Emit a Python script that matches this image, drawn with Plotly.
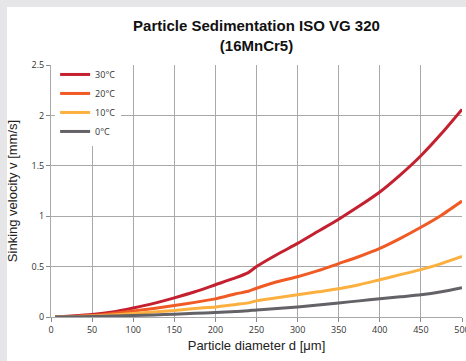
import plotly.graph_objects as go

diam = [5, 25, 50, 75, 100, 125, 150, 175, 200, 225, 240, 250, 275, 300, 325, 350, 375, 400, 425, 450, 475, 500]
v30 = [0, 0.01, 0.025, 0.05, 0.09, 0.135, 0.19, 0.25, 0.32, 0.39, 0.44, 0.50, 0.62, 0.73, 0.85, 0.97, 1.10, 1.24, 1.41, 1.60, 1.82, 2.06]
v20 = [0, 0.005, 0.015, 0.035, 0.06, 0.085, 0.115, 0.145, 0.18, 0.23, 0.255, 0.285, 0.35, 0.40, 0.46, 0.53, 0.60, 0.68, 0.78, 0.89, 1.01, 1.15]
v10 = [0, 0.003, 0.01, 0.02, 0.035, 0.05, 0.065, 0.085, 0.10, 0.125, 0.14, 0.16, 0.19, 0.22, 0.25, 0.28, 0.32, 0.37, 0.42, 0.47, 0.53, 0.60]
v0 = [0, 0.002, 0.005, 0.01, 0.015, 0.02, 0.028, 0.036, 0.045, 0.055, 0.062, 0.07, 0.085, 0.10, 0.12, 0.14, 0.16, 0.18, 0.20, 0.22, 0.25, 0.29]

series = [("30°C", v30, "#c4202f"), ("20°C", v20, "#f05a24"), ("10°C", v10, "#fbb040"), ("0°C", v0, "#646266")]

fig = go.Figure()
for name, ys, col in series:
    fig.add_trace(go.Scatter(x=diam, y=ys, name=name, mode="lines",
                             line=dict(color=col, width=3, shape="spline", smoothing=0.6)))

W, H = 466, 361
l, r, t, b = 51, 4, 65, 44
pw, ph = W - l - r, H - t - b

fig.update_layout(
    width=W, height=H,
    margin=dict(l=l, r=r, t=t, b=b, autoexpand=False),
    paper_bgcolor="#e6e6e8",
    plot_bgcolor="white",
    font=dict(family="Open Sans, sans-serif", color="#333333", size=9),
    title=dict(text="<b>Particle Sedimentation ISO VG 320<br>(16MnCr5)</b>",
               x=0.5, xref="paper", xanchor="center", y=1 - 31 / H, yanchor="middle",
               font=dict(family="Liberation Sans Narrow, Arial Narrow, Liberation Sans, sans-serif", size=15, color="#111111")),
    showlegend=True,
    legend=dict(x=0.01, y=1.02, xanchor="left", yanchor="top", bgcolor="white",
                font=dict(size=9, color="#333333"), itemwidth=30, tracegroupgap=0,
                traceorder="normal"),
    xaxis=dict(range=[0, 500], tickvals=list(range(0, 501, 50)), showgrid=True, automargin=False,
               gridcolor="#a9a9a9", gridwidth=1, zeroline=False, showline=True, linecolor="#a9a9a9",
               ticks="outside", ticklen=4, tickcolor="#888888", ticklabeloverflow="allow",
               title=dict(text="Particle diameter d [μm]", font=dict(family="Liberation Sans, Arial, sans-serif", size=13, color="#222222"), standoff=6),
               tickfont=dict(size=9)),
    yaxis=dict(range=[0, 2.5], tickvals=[0, 0.5, 1, 1.5, 2, 2.5], ticktext=["0", "0.5", "1", "1.5", "2", "2.5"],
               showgrid=True, gridcolor="#a9a9a9", gridwidth=1, zeroline=False, automargin=False,
               showline=True, linecolor="#a9a9a9", ticks="outside", ticklen=4, tickcolor="#888888",
               title=dict(text="Sinking velocity v [mm/s]", font=dict(family="Liberation Sans, Arial, sans-serif", size=13, color="#222222"), standoff=10),
               tickfont=dict(size=9)),
    shapes=[dict(type="rect", xref="paper", yref="paper", layer="below",
                 x0=(7 - l) / pw, x1=1 + 20 / pw, y0=-(b + 20) / ph, y1=1 + (t - 7) / ph,
                 fillcolor="white", line=dict(width=0))],
)

fig.write_html("out.html", config={"displayModeBar": False},
               post_script="document.body.style.margin='0px';document.body.style.padding='0px';")
